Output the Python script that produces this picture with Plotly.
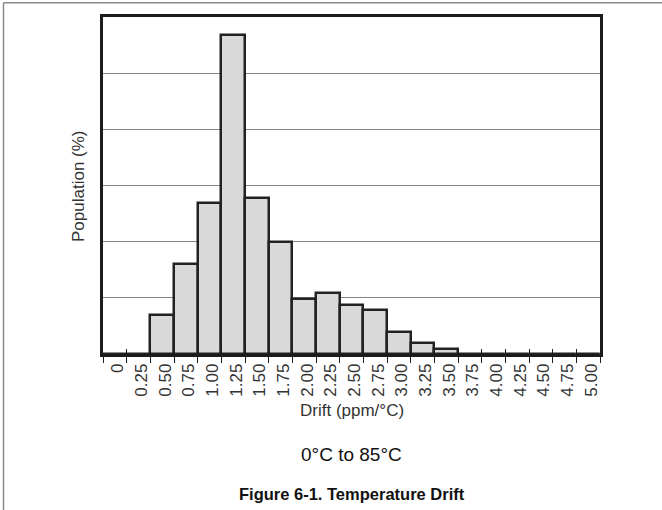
import plotly.graph_objects as go

# Drift bins (ppm/°C) and population (%)
drift_labels = ["0", "0.25", "0.50", "0.75", "1.00", "1.25", "1.50", "1.75", "2.00", "2.25",
                "2.50", "2.75", "3.00", "3.25", "3.50", "3.75", "4.00", "4.25", "4.50", "4.75", "5.00"]
population = [0, 0, 3.5, 8.0, 13.4, 28.4, 13.9, 10.0, 4.9, 5.4,
              4.4, 3.95, 1.95, 1.0, 0.46, 0, 0, 0, 0, 0, 0]

y_max = 30
grid_step = 5

W, H = 662, 510
L, R, T, B = 103, 62, 17, 156
pw, ph = W - L - R, H - T - B

def px_x(x):
    return (x - L) / pw

def px_y(y):
    return (H - B - y) / ph

fig = go.Figure()
fig.add_trace(go.Bar(
    x=drift_labels, y=population,
    marker=dict(color="#d9d9d9", line=dict(color="#222222", width=2.5)),
    width=1.0, showlegend=False, hoverinfo="skip",
))
# helper trace for inner tick marks (crossing ticks)
fig.add_trace(go.Scatter(
    x=drift_labels, y=[0] * len(drift_labels), xaxis="x2", mode="markers",
    marker=dict(size=1, opacity=0), showlegend=False, hoverinfo="skip",
))

axis_color = "#1c1c1c"
fig.update_layout(
    width=W, height=H,
    margin=dict(l=L, r=R, t=T, b=B),
    paper_bgcolor="white", plot_bgcolor="white",
    bargap=0,
    font=dict(family="Liberation Sans, Arial", color="#333333"),
    xaxis=dict(
        type="category", range=[-0.5, len(drift_labels) - 0.5],
        tickson="boundaries", ticks="outside", ticklen=6, tickwidth=1.2, tickcolor=axis_color,
        tickangle=-90, tickfont=dict(size=17, color="#333333"), ticklabelshift=3,
        showgrid=False, showline=True, linecolor=axis_color, linewidth=2.5, mirror=True,
        zeroline=False,
    ),
    xaxis2=dict(
        type="category", overlaying="x", side="bottom", range=[-0.5, len(drift_labels) - 0.5],
        tickson="boundaries", ticks="inside", ticklen=5, tickwidth=1.2, tickcolor=axis_color,
        showticklabels=False, showgrid=False, showline=False, zeroline=False,
    ),
    yaxis=dict(
        range=[0, y_max], dtick=grid_step, tick0=0, showticklabels=False, ticks="",
        showgrid=True, gridcolor="#858585", gridwidth=1.2,
        showline=True, linecolor=axis_color, linewidth=2.5, mirror=True, zeroline=False,
    ),
    annotations=[
        dict(text="Population (%)", xref="paper", yref="paper", x=px_x(78), y=px_y(186),
             textangle=-90, showarrow=False, font=dict(size=17, color="#333333"),
             xanchor="center", yanchor="middle"),
        dict(text="Drift (ppm/°C)", xref="paper", yref="paper", x=0.5, y=px_y(410),
             showarrow=False, font=dict(size=17, color="#333333"),
             xanchor="center", yanchor="middle"),
        dict(text="0°C to 85°C", xref="paper", yref="paper", x=0.5, y=px_y(454),
             showarrow=False, font=dict(size=19, color="#111111"),
             xanchor="center", yanchor="middle"),
        dict(text="<b>Figure 6-1. Temperature Drift</b>", xref="paper", yref="paper",
             x=0.5, y=px_y(494), showarrow=False, font=dict(size=16.5, color="#111111"),
             xanchor="center", yanchor="middle"),
    ],
    shapes=[
        dict(type="line", xref="paper", yref="paper", x0=px_x(3.5), x1=px_x(W), y0=px_y(2.7), y1=px_y(2.7),
             line=dict(color="#8a8a8a", width=1.5)),
        dict(type="line", xref="paper", yref="paper", x0=px_x(3.5), x1=px_x(3.5), y0=px_y(2.7), y1=px_y(H),
             line=dict(color="#8a8a8a", width=1.5)),
    ],
)

fig.write_html(
    "out.html",
    config={"displayModeBar": False},
    post_script="document.body.style.margin='0';document.body.style.overflow='hidden';",
)
